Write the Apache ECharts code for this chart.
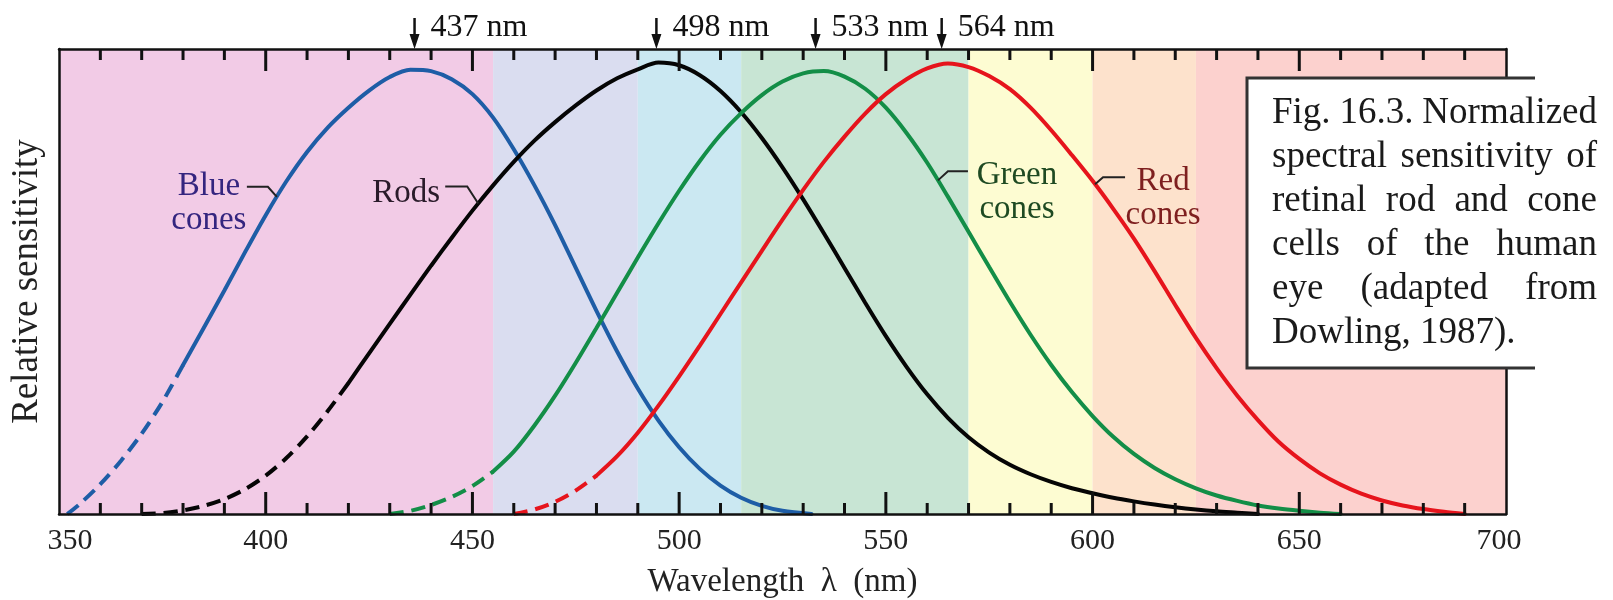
<!DOCTYPE html>
<html><head><meta charset="utf-8">
<script src="https://cdn.jsdelivr.net/npm/echarts@6/dist/echarts.min.js"></script>
<style>html,body{margin:0;padding:0;background:#fff}#c{width:1613px;height:600px}</style>
</head><body><div id="c"></div>
<script>
// ---- data ----
const bandEdges = [350, 455, 490, 515, 570, 600, 625, 700];
const bandColors = ['#F2CBE6', '#DADDF0', '#CBE8F2', '#C8E5D4', '#FDFCD2', '#FDE2CC', '#FCD1CE'];
const xTickLabels = [350, 400, 450, 500, 550, 600, 650, 700];
const tickNm = [360, 370, 380, 390, 400, 410, 420, 430, 440, 450, 460, 470, 480, 490, 500, 510, 520, 530, 540, 550, 560, 570, 580, 590, 600, 610, 620, 630, 640, 650, 660, 670, 680, 690];

const blueNm  = [352, 355, 360, 365, 370, 375, 380, 385, 390, 395, 400, 405, 410, 415, 420, 425, 430, 435, 440, 445, 450, 455, 460, 465, 470, 475, 480, 485, 490, 495, 500, 505, 510, 515, 520, 525, 532];
const blueVal = [0, 0.022, 0.066, 0.118, 0.178, 0.248, 0.33, 0.412, 0.495, 0.58, 0.662, 0.737, 0.802, 0.856, 0.90, 0.938, 0.968, 0.984, 0.981, 0.963, 0.93, 0.878, 0.808, 0.728, 0.64, 0.545, 0.45, 0.36, 0.278, 0.207, 0.148, 0.10, 0.063, 0.036, 0.018, 0.007, 0];
const blueDashEnd = 380;

const rodsNm  = [370, 375, 380, 385, 390, 395, 400, 405, 410, 415, 420, 425, 430, 435, 440, 445, 450, 455, 460, 465, 470, 475, 480, 485, 490, 495, 500, 505, 510, 515, 520, 525, 530, 535, 540, 545, 550, 555, 560, 565, 570, 575, 580, 585, 590, 595, 600, 605, 610, 615, 620, 625, 630, 635, 640];
const rodsVal = [0, 0.002, 0.008, 0.018, 0.033, 0.055, 0.085, 0.124, 0.172, 0.228, 0.29, 0.356, 0.421, 0.486, 0.55, 0.612, 0.672, 0.728, 0.78, 0.827, 0.868, 0.905, 0.938, 0.965, 0.985, 1.0, 0.994, 0.972, 0.937, 0.89, 0.833, 0.768, 0.697, 0.622, 0.545, 0.468, 0.394, 0.326, 0.265, 0.213, 0.17, 0.136, 0.109, 0.088, 0.071, 0.057, 0.046, 0.036, 0.028, 0.021, 0.015, 0.01, 0.006, 0.003, 0];
const rodsDashEnd = 420;

const greenNm  = [430, 435, 440, 445, 450, 455, 460, 465, 470, 475, 480, 485, 490, 495, 500, 505, 510, 515, 520, 525, 530, 535, 540, 545, 550, 555, 560, 565, 570, 575, 580, 585, 590, 595, 600, 605, 610, 615, 620, 625, 630, 635, 640, 645, 650, 655, 660];
const greenVal = [0, 0.007, 0.02, 0.038, 0.062, 0.094, 0.138, 0.196, 0.262, 0.335, 0.412, 0.49, 0.568, 0.644, 0.716, 0.782, 0.84, 0.888, 0.928, 0.958, 0.976, 0.981, 0.969, 0.942, 0.90, 0.844, 0.778, 0.703, 0.625, 0.547, 0.47, 0.397, 0.33, 0.27, 0.217, 0.171, 0.133, 0.102, 0.077, 0.057, 0.041, 0.029, 0.019, 0.012, 0.007, 0.003, 0];
const greenDashEnd = 455;

const redNm  = [460, 465, 470, 475, 480, 485, 490, 495, 500, 505, 510, 515, 520, 525, 530, 535, 540, 545, 550, 555, 560, 565, 570, 575, 580, 585, 590, 595, 600, 605, 610, 615, 620, 625, 630, 635, 640, 645, 650, 655, 660, 665, 670, 675, 680, 685, 690];
const redVal = [0, 0.01, 0.027, 0.052, 0.085, 0.128, 0.18, 0.24, 0.305, 0.373, 0.443, 0.513, 0.583, 0.652, 0.718, 0.78, 0.836, 0.887, 0.93, 0.963, 0.987, 0.998, 0.99, 0.97, 0.941, 0.90, 0.85, 0.795, 0.738, 0.676, 0.61, 0.538, 0.463, 0.39, 0.323, 0.262, 0.208, 0.16, 0.122, 0.09, 0.065, 0.045, 0.03, 0.019, 0.011, 0.005, 0];
const redDashEnd = 480;

const peakNm = [436, 494.5, 533, 563.5];
const peakLabels = ['437 nm', '498 nm', '533 nm', '564 nm'];

const captionLines = ['Fig. 16.3. Normalized', 'spectral sensitivity of', 'retinal rod and cone', 'cells of the human', 'eye (adapted from', 'Dowling, 1987).'];

// ---- chart ----
const FONT = 'Liberation Serif';
const Y_MAX = 1.03;
const chart = echarts.init(document.getElementById('c'), null, {renderer: 'canvas'});

function split(nm, val, dashEnd) {
  const d = [], s = [];
  nm.forEach((x, i) => {
    if (x <= dashEnd) d.push([x, val[i]]);
    if (x >= dashEnd) s.push([x, val[i]]);
  });
  return [d, s];
}
function interp(nm, val, x) {
  for (let i = 0; i < nm.length - 1; i++) {
    if (x >= nm[i] && x <= nm[i + 1]) {
      const t = (x - nm[i]) / (nm[i + 1] - nm[i]);
      return val[i] + t * (val[i + 1] - val[i]);
    }
  }
  return 0;
}

const curves = [
  {nm: blueNm, val: blueVal, end: blueDashEnd, color: '#1E5DA6'},
  {nm: rodsNm, val: rodsVal, end: rodsDashEnd, color: '#050505'},
  {nm: greenNm, val: greenVal, end: greenDashEnd, color: '#138E47'},
  {nm: redNm, val: redVal, end: redDashEnd, color: '#E6141C'}
];

const series = [];
const areaData = [];
for (let i = 0; i < bandColors.length; i++) {
  areaData.push([{xAxis: bandEdges[i], itemStyle: {color: bandColors[i]}}, {xAxis: bandEdges[i + 1]}]);
}
series.push({
  type: 'line', data: [[350, null]], z: 0, silent: true,
  markArea: {silent: true, data: areaData, itemStyle: {opacity: 1}}
});
curves.forEach(c => {
  const [d, s] = split(c.nm, c.val, c.end);
  series.push({type: 'line', data: d, showSymbol: false, smooth: 0.3, z: 3, silent: true,
    lineStyle: {color: c.color, width: 4, type: [14, 8], cap: 'butt'}});
  series.push({type: 'line', data: s, showSymbol: false, smooth: 0.3, z: 3, silent: true,
    lineStyle: {color: c.color, width: 4, cap: 'round'}});
});

const axisCommon = {
  type: 'value', min: 350, max: 700, interval: 50, z: 10,
  axisLine: {show: true, onZero: false, lineStyle: {color: '#111', width: 2.5}},
  axisTick: {show: false}, minorTick: {show: false},
  splitLine: {show: false}, minorSplitLine: {show: false}
};

chart.setOption({
  animation: false,
  backgroundColor: '#fff',
  grid: {left: 59, top: 49, width: 1447, height: 465, containLabel: false, outerBoundsMode: 'none'},
  xAxis: [
    Object.assign({}, axisCommon, {
      position: 'bottom',
      axisLabel: {show: true, fontFamily: FONT, fontSize: 30, color: '#222', margin: 12,
        formatter: v => v === 350 ? '{minL|350}' : (v === 700 ? '{maxL|700}' : (xTickLabels.indexOf(v) >= 0 ? String(v) : '')),
        rich: {
          minL: {fontFamily: FONT, fontSize: 30, color: '#222', padding: [0, 0, 0, 22]},
          maxL: {fontFamily: FONT, fontSize: 30, color: '#222', padding: [0, 14, 0, 0]}
        }},
      name: 'Wavelength\u2002\u03bb\u2002(nm)', nameLocation: 'middle', nameGap: 52, nameMoveOverlap: false,
      nameTextStyle: {fontFamily: FONT, fontSize: 33, color: '#222'}
    }),
    Object.assign({}, axisCommon, {position: 'top', axisLabel: {show: false}})
  ],
  yAxis: [
    {type: 'value', min: 0, max: Y_MAX, position: 'left', z: 10,
      axisLine: {show: true, onZero: false, lineStyle: {color: '#111', width: 2.5}},
      axisTick: {show: false}, axisLabel: {show: false}, splitLine: {show: false},
      name: 'Relative sensitivity', nameLocation: 'middle', nameGap: 13,
      nameTextStyle: {fontFamily: FONT, fontSize: 37, color: '#222'}},
    {type: 'value', min: 0, max: Y_MAX, position: 'right', z: 10,
      axisLine: {show: true, onZero: false, lineStyle: {color: '#111', width: 2.5}},
      axisTick: {show: false}, axisLabel: {show: false}, splitLine: {show: false}}
  ],
  series: series
});

// ---- annotations ----
const g = [];
const px = (x, y) => chart.convertToPixel({xAxisIndex: 0, yAxisIndex: 0}, [x, y]);

// inward ticks on the bottom and top frame edges
const gridRect = chart.getModel().getComponent('grid', 0).coordinateSystem.getRect();
tickNm.forEach(v => {
  const x = px(v, 0)[0];
  const yb = gridRect.y + gridRect.height, yt = gridRect.y;
  const len = (v % 50 === 0) ? 22 : 11;
  g.push({type: 'rect', z: 45, shape: {x: x - 1.5, y: yb - len, width: 3, height: len}, style: {fill: '#111'}});
  g.push({type: 'rect', z: 45, shape: {x: x - 1.5, y: yt, width: 3, height: len}, style: {fill: '#111'}});
});

peakNm.forEach((nm, i) => {
  const p = px(nm, 1)[0];
  g.push({type: 'line', z: 50, shape: {x1: p, y1: 18, x2: p, y2: 40}, style: {stroke: '#111', lineWidth: 2.5}});
  g.push({type: 'polygon', z: 50, shape: {points: [[p - 5, 34], [p + 5, 34], [p, 49]]}, style: {fill: '#111'}});
  g.push({type: 'text', z: 50, x: p + 16, y: 28, style: {text: peakLabels[i], fill: '#111',
    font: '32px "' + FONT + '"', align: 'left', verticalAlign: 'middle'}});
});

function curveLabel(lines, nm, curve, color, o) {
  const v = interp(curve.nm, curve.val, nm);
  const [ax, ay] = px(nm, v);
  g.push({type: 'polyline', z: 40, shape: {points: [[ax, ay], [ax + o.kx, ay + o.ky], [ax + o.ex, ay + o.ky]]},
    style: {stroke: '#222', lineWidth: 2, fill: null}});
  lines.forEach((t, k) => {
    g.push({type: 'text', z: 40, x: ax + o.tx, y: ay + o.ty + k * 34,
      style: {text: t, fill: color, font: '33px "' + FONT + '"', align: o.align, verticalAlign: 'middle'}});
  });
}
curveLabel(['Blue', 'cones'], 402.7, curves[0], '#34257F', {kx: -9, ky: -10, ex: -30, tx: -68, ty: -11, align: 'center'});
curveLabel(['Rods'], 451.4, curves[1], '#2a1b2a', {kx: -11, ky: -17, ex: -33, tx: -38, ty: -10, align: 'right'});
curveLabel(['Green', 'cones'], 562.6, curves[2], '#1E4A22', {kx: 10, ky: -9, ex: 30, tx: 79, ty: -5, align: 'center'});
curveLabel(['Red', 'cones'], 600.6, curves[3], '#7E1F1F', {kx: 8, ky: -7, ex: 30, tx: 68, ty: -3, align: 'center'});

// caption box
g.push({type: 'rect', z: 60, shape: {x: 1247, y: 78, width: 366, height: 290}, style: {fill: '#fff'}});
g.push({type: 'polyline', z: 61, shape: {points: [[1535, 78], [1247, 78], [1247, 368], [1535, 368]]},
  style: {stroke: '#333', lineWidth: 3, fill: null}});
const cFont = '37px "' + FONT + '"';
const ctx = document.createElement('canvas').getContext('2d');
ctx.font = cFont;
const left = 1272, right = 1597, lineY0 = 113, lineH = 44;
captionLines.forEach((line, li) => {
  const y = lineY0 + li * lineH;
  const words = line.split(' ');
  if (li === captionLines.length - 1 || words.length < 2) {
    g.push({type: 'text', z: 62, x: left, y: y, style: {text: line, fill: '#1a1a1a', font: cFont, align: 'left', verticalAlign: 'middle'}});
    return;
  }
  const widths = words.map(w => ctx.measureText(w).width);
  const total = widths.reduce((a, b) => a + b, 0);
  const gap = (right - left - total) / (words.length - 1);
  let x = left;
  words.forEach((w, k) => {
    g.push({type: 'text', z: 62, x: x, y: y, style: {text: w, fill: '#1a1a1a', font: cFont, align: 'left', verticalAlign: 'middle'}});
    x += widths[k] + gap;
  });
});

chart.setOption({graphic: {elements: g}});
</script>
</body></html>
